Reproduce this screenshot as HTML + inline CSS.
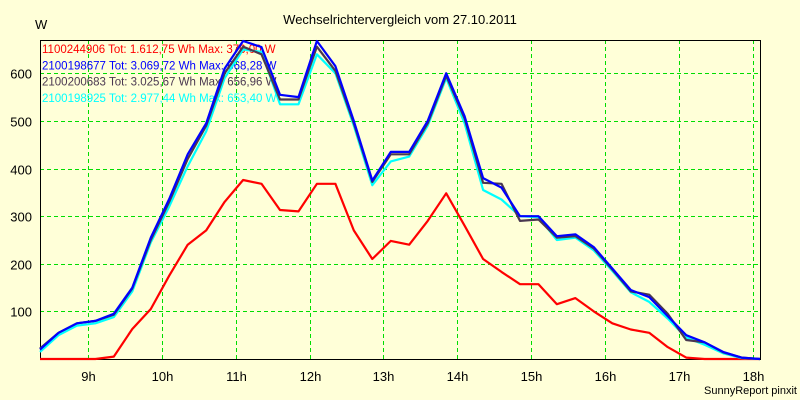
<!DOCTYPE html>
<html><head><meta charset="utf-8"><style>
body{margin:0;background:#ffffd8;}
svg{display:block;font-family:"Liberation Sans",sans-serif;}
</style></head><body>
<svg id="chart" width="800" height="400" viewBox="0 0 800 400">
<rect x="0" y="0" width="800" height="400" fill="#ffffd8"/>
<text x="400" y="24" text-anchor="middle" font-size="13" fill="#000">Wechselrichtervergleich vom 27.10.2011</text>
<text x="35" y="29" font-size="13" fill="#000">W</text>
<text x="797" y="394" text-anchor="end" font-size="11" fill="#000">SunnyReport pinxit</text>
<g id="grid"></g>
<g id="axes"></g>
<g id="legend"></g>
<g id="series"></g>
</svg>
<script>
const times=[8.35,8.6,8.85,9.1,9.35,9.6,9.85,10.1,10.35,10.6,10.85,11.1,11.35,11.6,11.85,12.1,12.35,12.6,12.85,13.1,13.35,13.6,13.85,14.1,14.35,14.6,14.85,15.1,15.35,15.6,15.85,16.1,16.35,16.6,16.85,17.1,17.35,17.6,17.85,18.1];
const red=[0,0,0,0,5,63,105,175,240,270,330,376,368,313,310,368,368,270,210,248,240,290,348,280,210,183,157,157,115,128,100,75,62,55,25,3,0,0,0,0];
const blue=[20,55,75,80,95,150,255,336,430,495,610,668,655,555,550,668,615,500,375,435,435,500,600,510,380,360,300,300,258,262,235,190,145,130,90,50,35,15,3,0];
const brown=[22,55,75,80,93,148,250,330,420,490,600,656,640,545,545,656,605,495,372,430,430,495,595,505,370,368,290,293,255,258,232,188,142,135,95,40,35,14,3,0];
const cyan=[15,50,70,75,88,142,245,320,405,478,590,650,645,535,535,640,600,490,365,415,425,490,590,495,355,335,300,298,250,255,228,185,140,120,85,45,30,12,2,0];
const yTicks=[100,200,300,400,500,600];
const xTicks=[9,10,11,12,13,14,15,16,17,18];
const legendLabels=["1100244906 Tot: 1.612,75 Wh Max: 376,00 W","2100198677 Tot: 3.069,72 Wh Max: 668,28 W","2100200683 Tot: 3.025,67 Wh Max: 656,96 W","2100198925 Tot: 2.977,44 Wh Max: 653,40 W"];
const L=40,R=760,T=40,B=359,H0=8.35,H1=18.1,VMAX=670;
const xs=h=>L+(h-H0)/(H1-H0)*(R-L);
const ys=v=>B-v/VMAX*(B-T);
const NS="http://www.w3.org/2000/svg";
function mk(tag,attrs,parent){const e=document.createElementNS(NS,tag);for(const k in attrs)e.setAttribute(k,attrs[k]);parent.appendChild(e);return e;}
const grid=document.getElementById('grid'),axes=document.getElementById('axes'),leg=document.getElementById('legend'),ser=document.getElementById('series');
yTicks.forEach(v=>{const y=Math.round(ys(v))+0.5;
 const l=mk('line',{x1:L,x2:R,y1:y,y2:y,stroke:'#00dd00','stroke-dasharray':'4,3'},grid);
 
 const t=mk('text',{x:32,y:y+5,'text-anchor':'end','font-size':'13'},axes);t.textContent=v;
 });
xTicks.forEach(h=>{const x=Math.round(xs(h))+0.5;
 const l=mk('line',{x1:x,x2:x,y1:T,y2:B,stroke:'#00dd00','stroke-dasharray':'4,3'},grid);
 
 const t=mk('text',{x:x,y:381,'text-anchor':'middle','font-size':'13'},axes);t.textContent=h+'h';
 });
const frame=mk('rect',{x:L+0.5,y:T+0.5,width:R-L,height:B-T,fill:'none',stroke:'#000'},axes);

const cols=['#ff0000','#0000ff','#4a3850','#00ffff'];
const names=['series-1100244906','series-2100198677','series-2100200683','series-2100198925'];
legendLabels.forEach((s,i)=>{const t=mk('text',{x:42,y:53+i*16.3,'font-size':'11.5',fill:cols[i]},leg);t.textContent=s;
 });
[red,cyan,brown,blue].forEach((arr,k)=>{const i=[0,3,2,1][k];
 const p=mk('polyline',{points:arr.map((v,j)=>xs(times[j]).toFixed(1)+','+ys(v).toFixed(1)).join(' '),fill:'none',stroke:cols[i],'stroke-width':2.2,'stroke-linejoin':'round'},ser);
 });
</script>
</body></html>
